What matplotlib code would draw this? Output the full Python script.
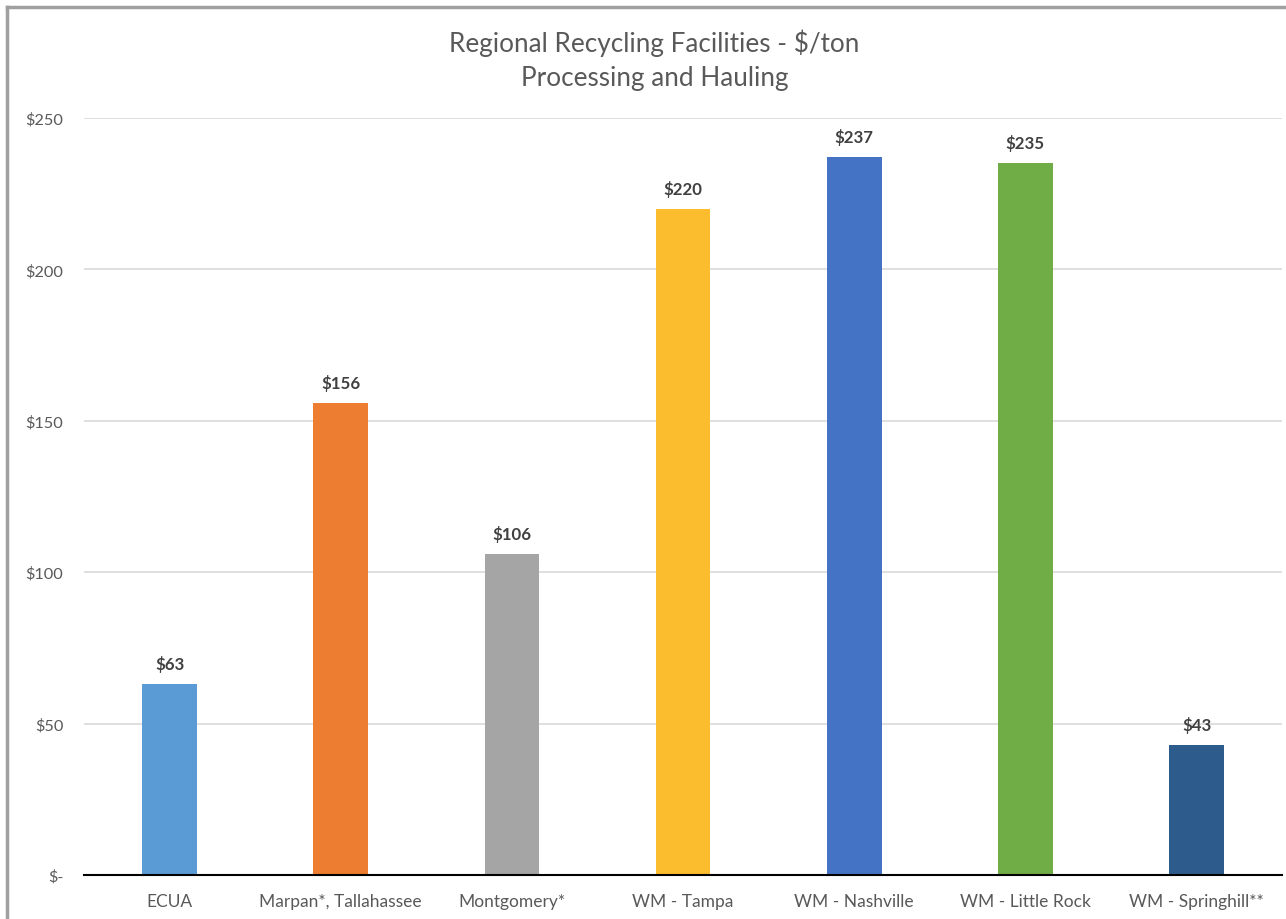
import matplotlib.pyplot as plt
from matplotlib.lines import Line2D

plt.rcParams['font.family'] = ['Lato', 'DejaVu Sans']

facilities = ['ECUA', 'Marpan*, Tallahassee', 'Montgomery*', 'WM - Tampa',
              'WM - Nashville', 'WM - Little Rock', 'WM - Springhill**']
cost_per_ton = [63, 156, 106, 220, 237, 235, 43]
bar_colors = ['#5B9BD5', '#ED7D31', '#A5A5A5', '#FBBC2E',
              '#4472C4', '#70AD47', '#2D5B8B']
yticks = [0, 50, 100, 150, 200, 250]
ytick_labels = ['$-', '$50', '$100', '$150', '$200', '$250']

fig = plt.figure(figsize=(12.86, 9.2), dpi=100)
ax = fig.add_axes([0.0653, 0.0478, 0.9317, 0.8229])

x = range(len(facilities))
bars = ax.bar(x, cost_per_ton, width=0.32, color=bar_colors, zorder=3)

for b, v in zip(bars, cost_per_ton):
    ax.text(b.get_x() + b.get_width() / 2, v + 4, f'${v}', ha='center', va='bottom',
            fontsize=12.2, fontweight='bold', color='#404040')

ax.set_xlim(-0.5, len(facilities) - 0.5)
ax.set_ylim(0, 250)
ax.set_yticks(yticks)
ax.set_yticklabels(ytick_labels)
ax.set_xticks(list(x))
ax.set_xticklabels(facilities)
ax.tick_params(axis='both', length=0, labelcolor='#595959')
ax.tick_params(axis='y', pad=15, labelsize=11.8)
ax.tick_params(axis='x', pad=13, labelsize=12.5)

ax.grid(axis='y', color='#D9D9D9', linewidth=1.2, zorder=0)
for s in ['top', 'right', 'left']:
    ax.spines[s].set_visible(False)
ax.spines['bottom'].set_color('#000000')
ax.spines['bottom'].set_linewidth(1.5)
ax.spines['bottom'].set_zorder(4)

fig.text(0.509, 0.953, 'Regional Recycling Facilities - $/ton', ha='center', va='center',
         fontsize=18.8, color='#595959')
fig.text(0.509, 0.915, 'Processing and Hauling', ha='center', va='center',
         fontsize=18.8, color='#595959')

# outer chart frame (top and left edges visible)
fig.add_artist(Line2D([7 / 1286, 1], [1 - 8 / 920, 1 - 8 / 920], transform=fig.transFigure,
                      color='#A0A0A0', linewidth=2.5))
fig.add_artist(Line2D([7 / 1286, 7 / 1286], [0, 1 - 8 / 920], transform=fig.transFigure,
                      color='#A0A0A0', linewidth=2.5))

fig.savefig('out.png', dpi=100)
